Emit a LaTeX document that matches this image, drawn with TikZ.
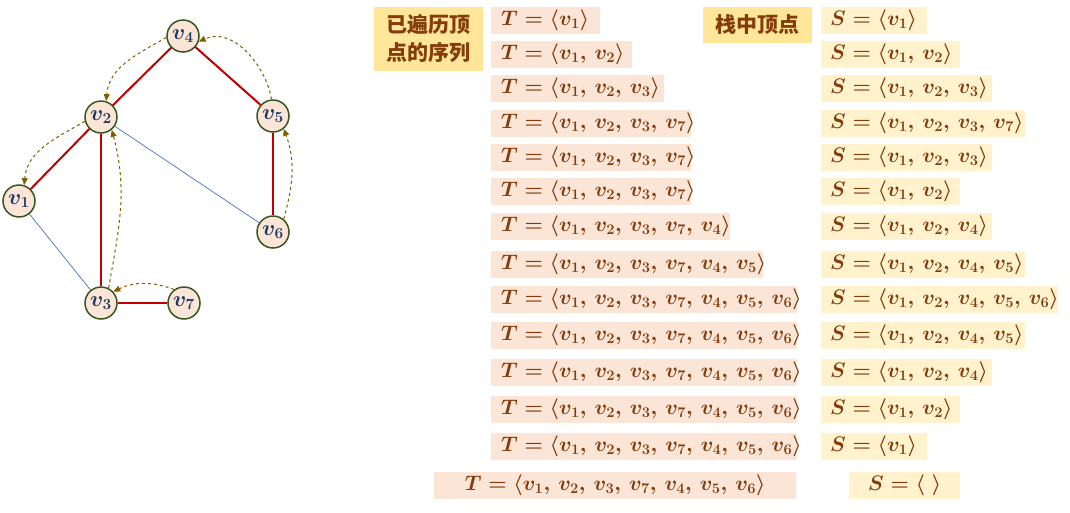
\RequirePackage{fix-cm}
\documentclass[tikz,border=0pt]{standalone}
\usepackage{fontspec}
\newfontfamily\cjk{Noto Sans CJK SC}
\usetikzlibrary{arrows.meta}
\definecolor{nfill}{HTML}{FBE5D6}
\definecolor{nborder}{HTML}{385723}
\definecolor{vlab}{HTML}{203864}
\definecolor{redge}{HTML}{C00000}
\definecolor{bedge}{HTML}{4472C4}
\definecolor{trace}{HTML}{7F6000}
\definecolor{hfill}{HTML}{FFE699}
\definecolor{brownt}{HTML}{843C0C}
\definecolor{tfill}{HTML}{FBE5D6}
\definecolor{sfill}{HTML}{FFF2CC}
\newcommand\cs{,\,}
\newcommand\mth[1]{{\boldmath$#1$}}
\begin{document}
\begin{tikzpicture}[x=1pt,y=-1pt,
  vert/.style={circle,draw=nborder,line width=1.5pt,fill=nfill,minimum size=32pt,inner sep=0pt,
    text=vlab,font=\fontsize{22}{24}\selectfont},
  tree/.style={draw=redge,line width=2pt},
  other/.style={draw=bedge,line width=0.7pt},
  walk/.style={draw=trace,dashed,line width=1pt,-{Triangle[length=7pt,width=6pt]}},
  hdr/.style={fill=hfill,text=brownt,inner sep=0pt,font=\cjk\bfseries\fontsize{21}{28}\selectfont,align=center},
  tbox/.style={fill=tfill,text=brownt,anchor=west,inner xsep=0pt,inner ysep=0pt,minimum height=27pt,font=\fontsize{21}{24}\selectfont},
  sbox/.style={fill=sfill,text=brownt,anchor=west,inner xsep=0pt,inner ysep=0pt,minimum height=27pt,font=\fontsize{21}{24}\selectfont}
]
\useasboundingbox (0,0) rectangle (1070,512);

% graph
\node[vert] (v4) at (183,36) {\mth{v_4}};
\node[vert] (v2) at (101,117) {\mth{v_2}};
\node[vert] (v5) at (273,116) {\mth{v_5}};
\node[vert] (v1) at (19,201) {\mth{v_1}};
\node[vert] (v6) at (273,232) {\mth{v_6}};
\node[vert] (v3) at (101,303) {\mth{v_3}};
\node[vert] (v7) at (184,303) {\mth{v_7}};

\path[other] (v2) -- (v6);
\path[other] (v1) -- (v3);
\path[tree] (v4) -- (v2);
\path[tree] (v4) -- (v5);
\path[tree] (v2) -- (v1);
\path[tree] (v2) -- (v3);
\path[tree] (v5) -- (v6);
\path[tree] (v3) -- (v7);

\path[walk] (v4.185) to[out=210,in=85] (v2.72);
\path[walk] (v2.195) to[out=210,in=85] (v1.72);
\path[walk] (v3.63) to[out=80,in=-75] (v2.-50);
\path[walk] (v7.126) to[out=160,in=25] (v3.43);
\path[walk] (v6.50) to[out=75,in=-70] (v5.-50);
\path[walk] (v5.95) to[out=100,in=25] (v4.-20);

% headers
\node[hdr,minimum width=109pt,minimum height=64pt] (hT) at (428.5,39) {已遍历顶\\点的序列};
\node[hdr,minimum width=109pt,minimum height=36pt] (hS) at (757.5,25) {栈中顶点};

% rows
\newcommand\row[6]{%
  \node[tbox] (t#1) at (491,#2) {\makebox[#3pt][l]{\hspace{10pt}\mth{T=\langle #4\rangle}}};
  \node[sbox] (s#1) at (821,#2) {\makebox[#5pt][l]{\hspace{9pt}\mth{S=\langle #6\rangle}}};
}
\row{1}{20.5}{109}{v_1}{106}{v_1}
\row{2}{54.5}{141}{v_1\cs v_2}{139}{v_1\cs v_2}
\row{3}{88.5}{173}{v_1\cs v_2\cs v_3}{171}{v_1\cs v_2\cs v_3}
\row{4}{123}{200}{v_1\cs v_2\cs v_3\cs v_7}{204}{v_1\cs v_2\cs v_3\cs v_7}
\row{5}{157}{200}{v_1\cs v_2\cs v_3\cs v_7}{171}{v_1\cs v_2\cs v_3}
\row{6}{191.5}{200}{v_1\cs v_2\cs v_3\cs v_7}{139}{v_1\cs v_2}
\row{7}{226.5}{239}{v_1\cs v_2\cs v_3\cs v_7\cs v_4}{171}{v_1\cs v_2\cs v_4}
\row{8}{264.5}{272}{v_1\cs v_2\cs v_3\cs v_7\cs v_4\cs v_5}{204}{v_1\cs v_2\cs v_4\cs v_5}
\row{9}{299.5}{306}{v_1\cs v_2\cs v_3\cs v_7\cs v_4\cs v_5\cs v_6}{237}{v_1\cs v_2\cs v_4\cs v_5\cs v_6}
\row{10}{335.5}{306}{v_1\cs v_2\cs v_3\cs v_7\cs v_4\cs v_5\cs v_6}{204}{v_1\cs v_2\cs v_4\cs v_5}
\row{11}{372.5}{306}{v_1\cs v_2\cs v_3\cs v_7\cs v_4\cs v_5\cs v_6}{171}{v_1\cs v_2\cs v_4}
\row{12}{409.5}{306}{v_1\cs v_2\cs v_3\cs v_7\cs v_4\cs v_5\cs v_6}{139}{v_1\cs v_2}
\row{13}{446.5}{306}{v_1\cs v_2\cs v_3\cs v_7\cs v_4\cs v_5\cs v_6}{106}{v_1}
\node[tbox] (t14) at (434,485.5) {\makebox[362pt]{\mth{T=\langle v_1\cs v_2\cs v_3\cs v_7\cs v_4\cs v_5\cs v_6\rangle}}};
\node[sbox] (s14) at (849,485.5) {\makebox[111pt]{\mth{S=\langle\;\rangle}}};
\end{tikzpicture}
\end{document}
